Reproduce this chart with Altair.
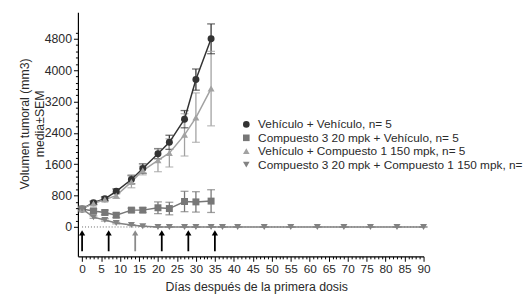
import altair as alt
import pandas as pd

series_names = [
    "Vehículo + Vehículo, n= 5",
    "Compuesto 3 20 mpk + Vehículo, n= 5",
    "Vehículo + Compuesto 1 150 mpk, n= 5",
    "Compuesto 3 20 mpk + Compuesto 1 150 mpk, n= 5",
]
series_colors = ["#333333", "#777777", "#a2a2a2", "#828282"]
series_shapes = ["circle", "square", "triangle-up", "triangle-down"]

days_short = [0, 3, 6, 9, 13, 16, 20, 23, 27, 30, 34]
days_long = [0, 3, 6, 9, 13, 16, 20, 23, 27, 30, 34, 37, 41, 48, 55, 62, 69, 76, 83, 90]

vv_mean = [460, 620, 720, 910, 1210, 1490, 1870, 2160, 2750, 3760, 4800]
vv_sem = [40, 40, 50, 60, 110, 120, 130, 180, 220, 270, 380]
c3v_mean = [460, 410, 370, 300, 430, 430, 490, 470, 650, 640, 660]
c3v_sem = [40, 50, 60, 60, 50, 60, 150, 160, 260, 260, 290]
vc1_mean = [460, 600, 700, 800, 1150, 1440, 1700, 1890, 2350, 2790, 3530]
vc1_sem = [40, 40, 50, 70, 150, 110, 290, 360, 540, 630, 950]
c3c1_mean = [460, 250, 180, 100, 50, 20, 0, 0, 0, 0, 0, 0, 0, 0, 0, 0, 0, 0, 0, 0]
c3c1_sem = [40, 30, 30, 20, 10, 5, 0, 0, 0, 0, 0, 0, 0, 0, 0, 0, 0, 0, 0, 0]

dose_days = [0, 7, 14, 21, 28, 35]
dose_colors = ["#000000", "#000000", "#8a8a8a", "#000000", "#000000", "#000000"]

y_ticks = list(range(0, 4961, 160))
x_ticks = list(range(0, 91, 1))

rows = []
for name, col, days, means, sems in [
    (series_names[0], series_colors[0], days_short, vv_mean, vv_sem),
    (series_names[1], series_colors[1], days_short, c3v_mean, c3v_sem),
    (series_names[2], series_colors[2], days_short, vc1_mean, vc1_sem),
    (series_names[3], series_colors[3], days_long, c3c1_mean, c3c1_sem),
]:
    for d, m, s in zip(days, means, sems):
        rows.append({"serie": name, "col": col, "dia": d, "media": m, "lo": m - s, "hi": m + s})
df = pd.DataFrame(rows)

arrows = pd.DataFrame({"dia": dose_days, "col": dose_colors,
                       "y0": [-620] * 6, "y1": [-170] * 6, "tip": [-150] * 6})
zero = pd.DataFrame({"y": [0], "x0": [0], "x1": [90]})

xscale = alt.Scale(domain=[-1.1, 90], nice=False, zero=False)
yscale = alt.Scale(domain=[-750, 5480], nice=False, zero=False)

font = "Liberation Sans"
xax = alt.Axis(values=x_ticks, title="Días después de la primera dosis", labelFontSize=12,
               titleFontSize=12.5, titleFontWeight="normal", labelFont=font, titleFont=font,
               tickSize={"condition": {"test": "datum.value % 5 === 0", "value": 5}, "value": 2.5},
               labelExpr="datum.value % 5 === 0 ? datum.value : ''",
               labelPadding=2, titlePadding=7, labelOverlap=False, labelFlush=False,
               domainColor="#000000", tickColor="#000000", labelColor="#2a2a2a",
               titleColor="#2a2a2a", grid=False, domainWidth=1.2, titleX=181)
yax = alt.Axis(values=y_ticks, title=["Volumen tumoral (mm3)", "media±SEM"], labelFontSize=12.5,
               titleFontSize=12.5, titleFontWeight="normal", labelFont=font, titleFont=font,
               tickSize={"condition": {"test": "datum.value % 800 === 0", "value": 4.5}, "value": 2.5},
               labelExpr="datum.value % 800 === 0 && datum.value <= 4800 ? datum.value : ''",
               labelPadding=2, titlePadding=-2, labelOverlap=False, labelFlush=False,
               domainColor="#000000", tickColor="#000000", labelColor="#2a2a2a",
               titleColor="#2a2a2a", grid=False, titleY=113, domainWidth=1.2)


def X(field):
    return alt.X(field, scale=xscale, axis=xax)


def Y(field):
    return alt.Y(field, scale=yscale, axis=yax)


base = alt.Chart(df)
cnone = alt.Color("col:N", scale=None)

err = base.mark_rule(strokeWidth=1.3).encode(x=X("dia:Q"), y=Y("lo:Q"), y2="hi:Q", color=cnone)
cap_lo = base.mark_tick(orient="horizontal", size=8, thickness=1.3).encode(
    x=X("dia:Q"), y=Y("lo:Q"), color=cnone)
cap_hi = base.mark_tick(orient="horizontal", size=8, thickness=1.3).encode(
    x=X("dia:Q"), y=Y("hi:Q"), color=cnone)
line = base.mark_line(strokeWidth=1.5).encode(
    x=X("dia:Q"), y=Y("media:Q"), detail="serie:N", color=cnone, order="dia:Q")
pts = base.mark_point(filled=True, size=50, opacity=1).encode(
    x=X("dia:Q"), y=Y("media:Q"),
    color=alt.Color("serie:N", scale=alt.Scale(domain=series_names, range=series_colors),
                    legend=alt.Legend(title=None, orient="none", legendX=165, legendY=108,
                                      labelFont=font, labelFontSize=12, labelColor="#2a2a2a",
                                      rowPadding=1.6, symbolSize=45, labelOffset=6,
                                      labelLimit=400)),
    shape=alt.Shape("serie:N", scale=alt.Scale(domain=series_names, range=series_shapes)),
)

zline = alt.Chart(zero).mark_rule(strokeDash=[1, 2], color="#666666", strokeWidth=1).encode(
    x=X("x0:Q"), x2="x1:Q", y=Y("y:Q"))
arr_shaft = alt.Chart(arrows).mark_rule(strokeWidth=1.8).encode(
    x=X("dia:Q"), y=Y("y0:Q"), y2="y1:Q", color=cnone)
arr_head = alt.Chart(arrows).mark_point(shape="triangle-up", filled=True, size=40, opacity=1).encode(
    x=X("dia:Q"), y=Y("tip:Q"), color=cnone)

chart = alt.layer(zline, arr_shaft, arr_head, err, cap_lo, cap_hi, line, pts).properties(
    width=351, height=248,
    autosize=alt.AutoSizeParams(type="none"),
    padding={"left": 71, "top": 2, "right": 102, "bottom": 37},
).configure_view(stroke=None)

chart.save("out.html", embed_options={"renderer": "svg", "actions": False})
